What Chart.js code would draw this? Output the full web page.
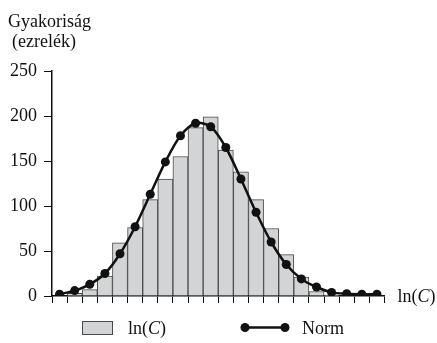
<!DOCTYPE html>
<html>
<head>
<meta charset="utf-8">
<script src="https://cdn.jsdelivr.net/npm/chart.js@4/dist/chart.umd.min.js"></script>
<style>
  html, body { margin: 0; padding: 0; background: #fff; }
  #wrap { width: 437px; height: 343px; }
</style>
</head>
<body>
<div id="wrap"><canvas id="hist"></canvas></div>
<script>
// Osztályok (22 egyforma szélességű sáv az ln(C) tengelyen)
const bins = ['1', '2', '3', '4', '5', '6', '7', '8', '9', '10', '11',
              '12', '13', '14', '15', '16', '17', '18', '19', '20', '21', '22'];

// Megfigyelt gyakoriság (ezrelék)
const observed = [0, 3, 7, 22, 59, 76, 107, 130, 155, 187, 199,
                  162, 138, 107, 75, 46, 21, 5, 1, 0, 0, 0];

// Normális eloszlás illesztett értékei
const normal = [2, 6, 13, 25, 47, 77, 113, 149, 178, 192, 188,
                165, 130, 93, 60, 35, 19, 10, 4, 2.5, 2, 2];

const yTicks = [0, 50, 100, 150, 200, 250];

const SERIF = "'Liberation Serif', 'Times New Roman', serif";

// "ln(C)" kiírása dőlt C betűvel
function drawLnC(ctx, x, y, size) {
    ctx.font = size + 'px ' + SERIF;
    ctx.fillText('ln(', x, y);
    x += ctx.measureText('ln(').width;
    ctx.font = 'italic ' + size + 'px ' + SERIF;
    ctx.fillText('C', x, y);
    x += ctx.measureText('C').width;
    ctx.font = size + 'px ' + SERIF;
    ctx.fillText(')', x, y);
}

// Tengelycímek és jelmagyarázat rajzolása
const decorations = {
    id: 'decorations',
    afterDraw(chart) {
        const ctx = chart.ctx;
        const area = chart.chartArea;
        const barSet = chart.data.datasets[1];
        const lineSet = chart.data.datasets[0];
        ctx.save();
        ctx.fillStyle = '#111';
        ctx.textBaseline = 'alphabetic';
        ctx.textAlign = 'left';

        // függőleges tengely címe
        ctx.font = '18px ' + SERIF;
        ctx.fillText('Gyakoriság', 8, 27);
        ctx.fillText('(ezrelék)', 12, 47);

        // vízszintes tengely címe
        drawLnC(ctx, area.right + 13, area.bottom + 6, 18);

        // jelmagyarázat: oszlop
        ctx.fillStyle = barSet.backgroundColor;
        ctx.strokeStyle = barSet.borderColor;
        ctx.lineWidth = 1;
        ctx.fillRect(82, 321, 30, 13);
        ctx.strokeRect(82.5, 321.5, 30, 13);
        ctx.fillStyle = '#111';
        drawLnC(ctx, 128, 334, 18);

        // jelmagyarázat: vonal pontokkal
        ctx.strokeStyle = lineSet.borderColor;
        ctx.lineWidth = lineSet.borderWidth;
        ctx.beginPath();
        ctx.moveTo(245, 327.5);
        ctx.lineTo(285, 327.5);
        ctx.stroke();
        ctx.fillStyle = lineSet.pointBackgroundColor;
        [245, 285].forEach(px => {
            ctx.beginPath();
            ctx.arc(px, 327.5, lineSet.pointRadius, 0, Math.PI * 2);
            ctx.fill();
        });
        ctx.fillStyle = '#111';
        ctx.font = '18px ' + SERIF;
        ctx.fillText(lineSet.label, 302, 334);
        ctx.restore();
    }
};

const ctx = document.getElementById('hist').getContext('2d');
new Chart(ctx, {
    type: 'bar',
    data: {
        labels: bins,
        datasets: [
            {
                type: 'line',
                label: 'Norm',
                data: normal,
                borderColor: '#111',
                borderWidth: 2.5,
                pointRadius: 4.5,
                pointBackgroundColor: '#111',
                pointBorderWidth: 0,
                tension: 0.3,
                order: 0
            },
            {
                type: 'bar',
                label: 'ln(C)',
                data: observed,
                backgroundColor: '#d3d4d5',
                borderColor: '#4a4a4a',
                borderWidth: 1,
                categoryPercentage: 1,
                barPercentage: 1,
                order: 1
            }
        ]
    },
    options: {
        responsive: true,
        maintainAspectRatio: false,
        animation: false,
        layout: {
            padding: { top: 71, right: 52.5, bottom: 0, left: 0 }
        },
        plugins: {
            legend: { display: false },
            tooltip: { enabled: false }
        },
        scales: {
            x: {
                offset: true,
                grid: {
                    offset: true,
                    drawOnChartArea: false,
                    drawTicks: true,
                    tickLength: 7,
                    color: '#111',
                    lineWidth: 1
                },
                border: { display: true, color: '#111', width: 1.5 },
                ticks: {
                    autoSkip: false,
                    maxRotation: 0,
                    callback: () => ''
                },
                afterFit(scale) { scale.height = 47; }
            },
            y: {
                min: 0,
                max: 250,
                afterBuildTicks(scale) {
                    scale.ticks = yTicks.map(v => ({ value: v }));
                },
                grid: {
                    drawOnChartArea: false,
                    drawTicks: true,
                    tickLength: 8,
                    color: '#111',
                    lineWidth: 1
                },
                border: { display: true, color: '#111', width: 1.5 },
                ticks: {
                    padding: 7,
                    color: '#111',
                    font: { family: SERIF, size: 18 }
                },
                afterFit(scale) { scale.width = 52; }
            }
        }
    },
    plugins: [decorations]
});
</script>
</body>
</html>
